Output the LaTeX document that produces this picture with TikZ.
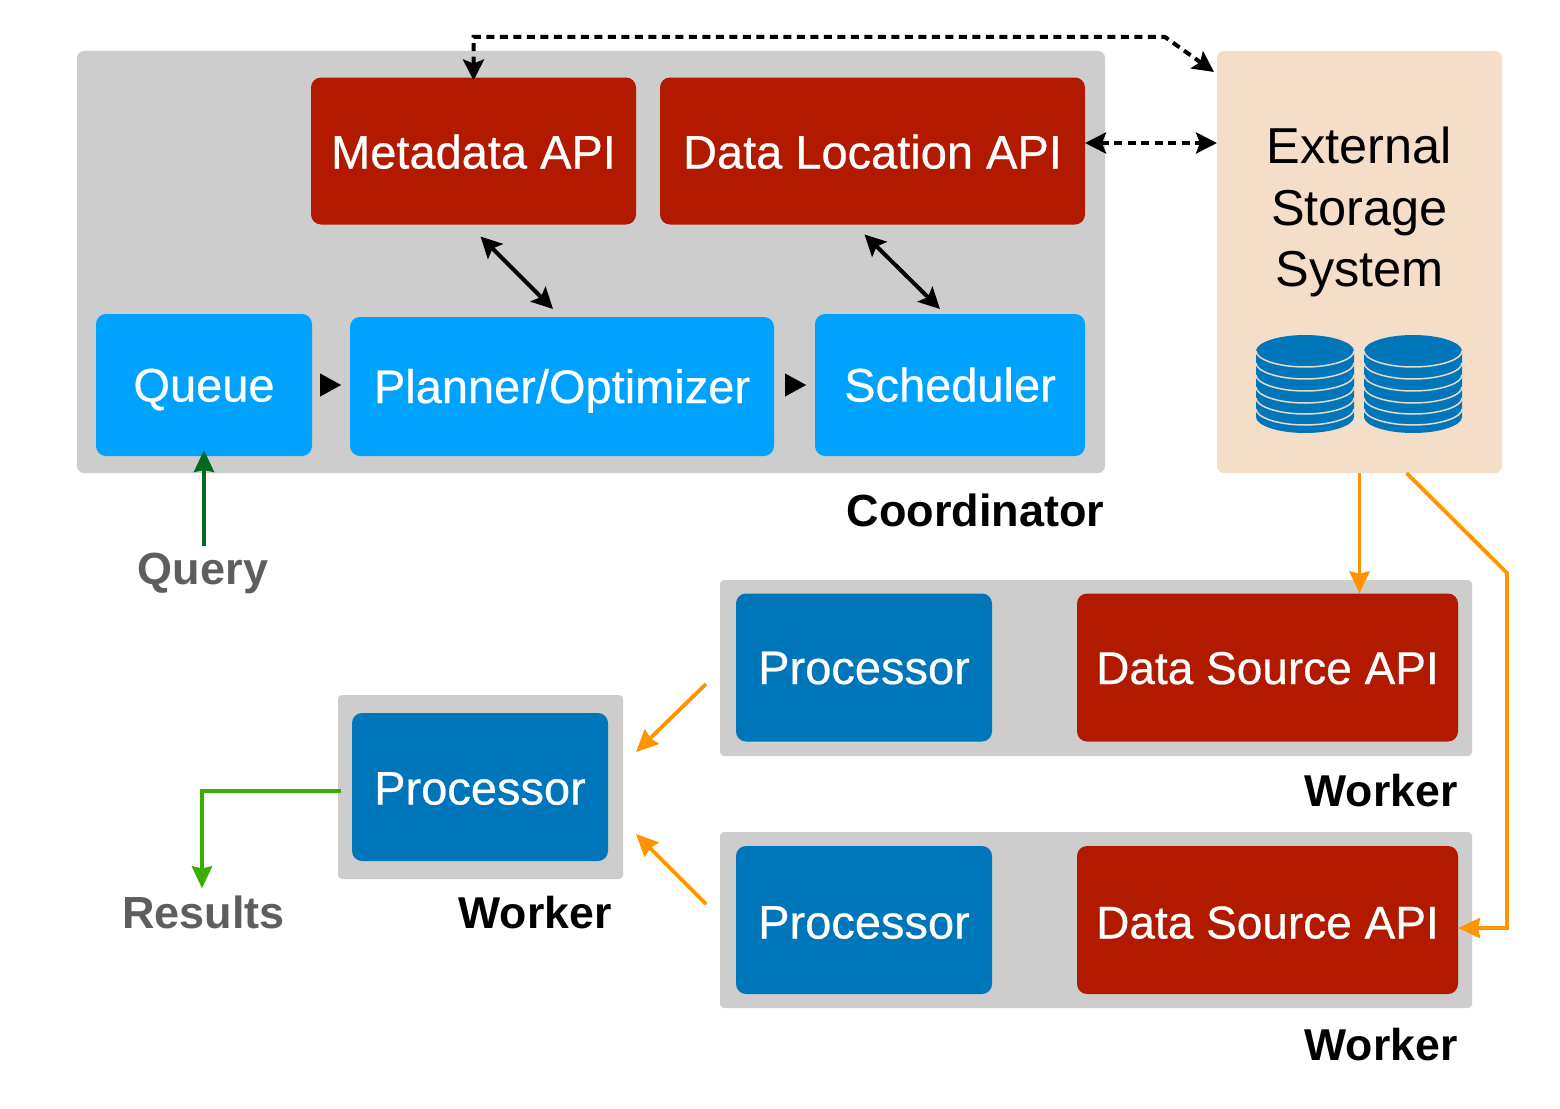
\documentclass[tikz,border=0pt]{standalone}
\usepackage{fontspec}
\setmainfont{Liberation Sans}
\newfontfamily\heavyfont[FakeBold=0.5]{Liberation Sans}
\usetikzlibrary{arrows.meta,calc}
\definecolor{panelgrey}{HTML}{CDCDCD}
\definecolor{apired}{HTML}{B21A00}
\definecolor{skyblue}{HTML}{00A2FF}
\definecolor{deepblue}{HTML}{0076BA}
\definecolor{peach}{HTML}{F5DEC8}
\definecolor{flowor}{HTML}{FF9300}
\definecolor{querygreen}{HTML}{006B1E}
\definecolor{resgreen}{HTML}{3DAE00}
\definecolor{labelgrey}{HTML}{5E5E5E}
\tikzset{
  x=1pt,y=-1pt,
  panel/.style={fill=panelgrey,rounded corners=7pt,inner sep=0pt,outer sep=0pt},
  boxbase/.style={rounded corners=10pt,inner sep=0pt,outer sep=0pt,text=white,text height=33pt,text depth=0pt,
    font=\heavyfont\fontsize{47}{56}\selectfont},
  redbox/.style={boxbase,fill=apired},
  skybox/.style={boxbase,fill=skyblue},
  deepbox/.style={boxbase,fill=deepblue},
  sourcetext/.style={font=\heavyfont\fontsize{46}{56}\selectfont},
  caption/.style={inner sep=0pt,outer sep=0pt,font=\fontsize{45}{54}\selectfont\bfseries,text=black},
  workercap/.style={caption,font=\fontsize{44.6}{54}\selectfont\bfseries},
  flow/.style={line width=3.8pt,-{Stealth[length=22pt,width=20pt,inset=2pt]}},
  biflow/.style={line width=4pt,{Stealth[length=21pt,width=21pt,inset=4pt]}-{Stealth[length=21pt,width=21pt,inset=4pt]}},
  bidash/.style={biflow,dash pattern=on 8pt off 5.5pt},
  chevron/.style={line width=0.2pt,-{Triangle[length=21pt,width=23pt]},shorten >=9pt,shorten <=17pt},
  orangeflow/.style={flow,draw=flowor,-{Stealth[length=22pt,width=20pt,inset=2pt,flowor]}},
  pics/dbstack/.style={code={
    \fill[deepblue] (-49,0) .. controls (-49,-8.5) and (-27,-16) .. (0,-16)
      .. controls (27,-16) and (49,-8.5) .. (49,0) -- (49,66)
      .. controls (49,74.5) and (27,82) .. (0,82)
      .. controls (-27,82) and (-49,74.5) .. (-49,66) -- cycle;
    \foreach \yy in {0,12,24,36,47,58}{
      \draw[peach!70!panelgrey,line width=1.5pt] (-49,\yy) .. controls (-49,{\yy+8.5}) and (-27,{\yy+16}) .. (0,{\yy+16})
        .. controls (27,{\yy+16}) and (49,{\yy+8.5}) .. (49,\yy);
    }
  }}
}
\begin{document}
\begin{tikzpicture}
\useasboundingbox (0,0) rectangle (1560,1108);
\fill[white] (0,0) rectangle (1560,1108);

% containers
\node[panel,minimum width=1028pt,minimum height=422pt] (coord) at (591,262) {};
\node[panel,fill=peach,minimum width=285pt,minimum height=422pt] (storage) at (1359.5,262) {};
\node[panel,rounded corners=4pt,minimum width=752pt,minimum height=176pt] (workerA) at (1096,668) {};
\node[panel,rounded corners=4pt,minimum width=752pt,minimum height=176pt] (workerB) at (1096,920) {};
\node[panel,rounded corners=4pt,minimum width=285pt,minimum height=184pt] (workerC) at (480.5,787) {};

% coordinator boxes
\node[redbox,text height=35pt,minimum width=325pt,minimum height=147pt] (meta) at (473.5,151) {Metadata API};
\node[redbox,text height=35pt,minimum width=425pt,minimum height=147pt] (dataloc) at (872.5,151) {Data Location API};
\node[skybox,minimum width=216pt,minimum height=142pt] (queue) at (204,385) {Queue};
\node[skybox,minimum width=424pt,minimum height=139pt] (planner) at (562,386.5) {Planner/Optimizer};
\node[skybox,minimum width=270pt,minimum height=142pt] (sched) at (950,385) {Scheduler};

% worker boxes
\node[deepbox,minimum width=256pt,minimum height=148pt] (procA) at (864,667.5) {Processor};
\node[redbox,sourcetext,minimum width=381pt,minimum height=148pt] (dsA) at (1267.5,667.5) {Data Source API};
\node[deepbox,text height=37pt,minimum width=256pt,minimum height=148pt] (procB) at (864,920) {Processor};
\node[redbox,sourcetext,text height=37pt,minimum width=381pt,minimum height=148pt] (dsB) at (1267.5,920) {Data Source API};
\node[deepbox,text height=35pt,minimum width=256pt,minimum height=148pt] (procC) at (480,787) {Processor};

% storage content
\node[inner sep=0pt,align=center,text=black,font=\fontsize{50.5}{61.5}\selectfont] (storagelabel) at (1359.5,212) {External\\Storage\\System};
\pic at (1305,351) {dbstack};
\pic at (1413,351) {dbstack};

% captions
\node[caption,anchor=base east] (coordcap) at (1104,526) {Coordinator};
\node[workercap,anchor=base east] (capA) at (1457.5,806) {Worker};
\node[workercap,anchor=base east] (capB) at (1457.5,1060) {Worker};
\node[workercap,anchor=base east] (capC) at (611.5,928) {Worker};
\node[caption,text=labelgrey,anchor=base] (query) at (203,584) {Query};
\node[caption,text=labelgrey,anchor=base] (results) at (203.5,928) {Results};

% connectors
\coordinate (turn) at (1165,37);
\draw[bidash,shorten <=-3pt] (meta.north) -- (meta.north |- turn) -- (turn) -- ([xshift=-3pt,yshift=-21pt]storage.north west);
\draw[bidash] ([yshift=8pt]dataloc.east) -- ([yshift=119pt]storage.west);
\draw[biflow] ([xshift=7pt,yshift=-12pt]meta.south) -- ([xshift=-9pt,yshift=8pt]planner.north);
\draw[biflow] ([xshift=-8pt,yshift=-10pt]dataloc.south) -- ([xshift=-10pt,yshift=5pt]sched.north);
\draw[chevron] (queue.east) -- (queue.east -| planner.west);
\draw[chevron] (sched.west -| planner.east) -- (sched.west);

% orange
\draw[orangeflow] (storage.south) -- (storage.south |- dsA.north);
\coordinate (bend) at (1507,573);
\coordinate (bendlow) at (1507,928);
\draw[orangeflow] ([xshift=47pt]storage.south) -- (bend) -- (bendlow) -- ([yshift=-8pt]dsB.east);
\draw[orangeflow] ([xshift=-14pt,yshift=-16pt]workerA.west) -- ([xshift=13pt,yshift=35pt]workerC.east);
\draw[orangeflow] ([xshift=-14pt,yshift=16pt]workerB.west) -- ([xshift=13pt,yshift=-47pt]workerC.east);

% green
\coordinate (querystart) at (204,546);
\draw[flow,draw=querygreen,-{Stealth[length=22pt,width=20pt,inset=2pt,querygreen]}] (querystart) -- ([yshift=6pt]queue.south);
\coordinate (resturn) at (202,791);
\draw[flow,draw=resgreen,-{Stealth[length=22pt,width=20pt,inset=2pt,resgreen]}] ([xshift=3pt,yshift=-4pt]workerC.west) -- (resturn) -- ([yshift=7pt]results.north -| resturn);
\end{tikzpicture}
\end{document}
